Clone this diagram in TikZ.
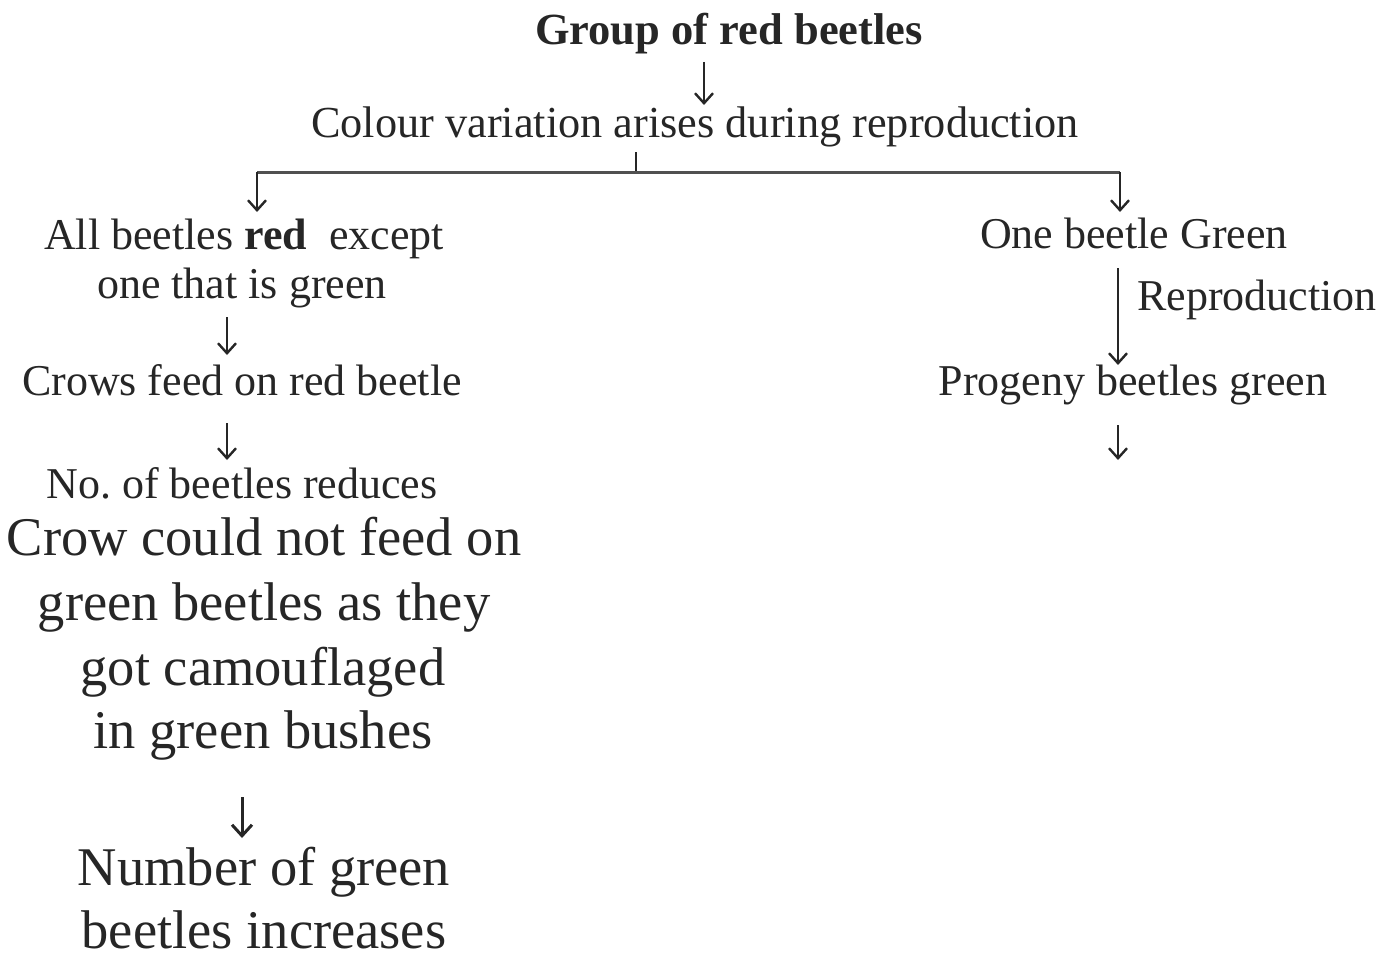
\documentclass[tikz,border=0pt]{standalone}
\usepackage{fontspec}
\setmainfont{Liberation Serif}
\usetikzlibrary{arrows.meta}
\definecolor{ink}{HTML}{262626}
\definecolor{barink}{HTML}{505050}
\frenchspacing
\begin{document}
\begin{tikzpicture}[x=1pt,y=-1pt,
  txt/.style={anchor=base, inner sep=0pt, text=ink, font=\fontsize{44}{52}\selectfont},
  bigtxt/.style={anchor=base, inner sep=0pt, text=ink, font=\fontsize{54.5}{65}\selectfont},
  arr/.style={draw=ink, line width=2.4pt, -{Straight Barb[length=10pt,width=18pt,line width=2.4pt]}},
  bigarr/.style={draw=ink, line width=3pt, -{Straight Barb[length=11pt,width=20pt,line width=3pt]}},
  bar/.style={draw=barink, line width=3pt},
  tick/.style={draw=ink, line width=1.5pt}]
\useasboundingbox (0,0) rectangle (1393,958);

% top of the chart
\node[txt, font=\fontsize{44.5}{52}\selectfont\bfseries] (group) at (729,45) {Group of red beetles};
\node[txt, font=\fontsize{44.3}{52}\selectfont] (colour) at (695,137) {Colour variation arises during reproduction};
\coordinate (g0) at (704,62);
\coordinate (g1) at (704,105);
\draw[arr] (g0) -- (g1);

% split into two branches
\coordinate (t0) at (636,152);
\coordinate (t1) at (636,172);
\coordinate (L0) at (257,172);
\coordinate (L1) at (257,212);
\coordinate (R0) at (1120,172);
\coordinate (R1) at (1120,212);
\draw[tick] (t0) -- (t1);
\draw[bar] (L0) -- (R0);
\draw[arr] (L0) -- (L1);
\draw[arr] (R0) -- (R1);

% left branch
\node[txt] (all) at (244,249) {All beetles \textbf{red}\ \ except};
\node[txt] (one) at (242,298) {one that is green};
\coordinate (a2s) at (227,317);
\coordinate (a2e) at (227,355);
\draw[arr] (a2s) -- (a2e);
\node[txt] (crows) at (242,395) {Crows feed on red beetle};
\coordinate (a3s) at (227,423);
\coordinate (a3e) at (227,460);
\draw[arr] (a3s) -- (a3e);
\node[txt] (fewer) at (242,498) {No. of beetles reduces};

\node[bigtxt] (cam1) at (264,555) {Crow could not feed on};
\node[bigtxt] (cam2) at (264,620) {green beetles as they};
\node[bigtxt] (cam3) at (263,685) {got camouflaged};
\node[bigtxt] (cam4) at (263,748) {in green bushes};
\coordinate (a4s) at (242,797);
\coordinate (a4e) at (242,838);
\draw[bigarr] (a4s) -- (a4e);
\node[bigtxt] (more1) at (264,885) {Number of green};
\node[bigtxt] (more2) at (264,948) {beetles increases};

% right branch
\node[txt] (green) at (1134,248) {One beetle Green};
\coordinate (r1s) at (1118,268);
\coordinate (r1e) at (1118,365);
\draw[arr] (r1s) -- (r1e);
\node[txt, anchor=base west] (repro) at (1137,310) {Reproduction};
\node[txt] (progeny) at (1133,395) {Progeny beetles green};
\coordinate (r2s) at (1118,425);
\coordinate (r2e) at (1118,460);
\draw[arr] (r2s) -- (r2e);
\end{tikzpicture}
\end{document}
